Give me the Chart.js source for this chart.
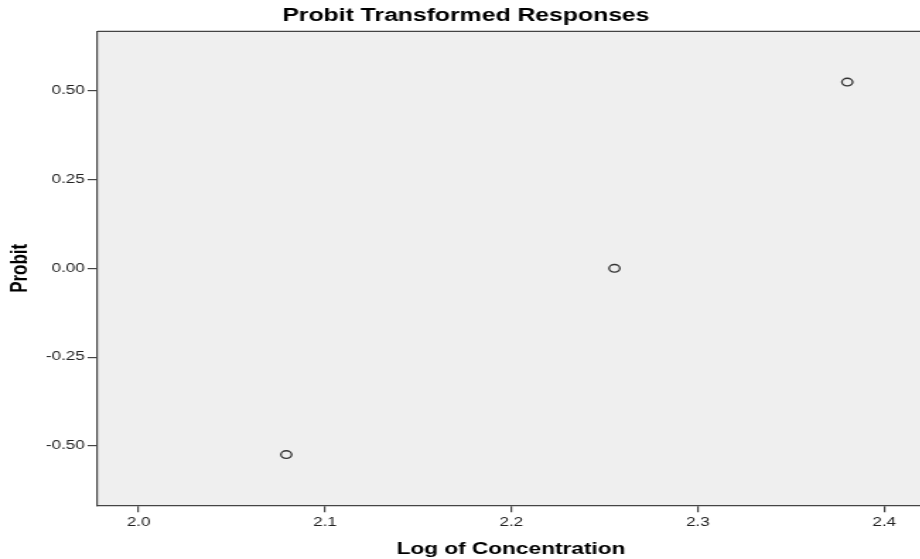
<!DOCTYPE html>
<html><head><meta charset="utf-8">
<script src="https://cdn.jsdelivr.net/npm/chart.js@4/dist/chart.umd.min.js"></script>
<style>
html,body{margin:0;padding:0;background:#fff;overflow:hidden;width:920px;height:559px}
#clip{width:920px;height:559px;overflow:hidden;position:relative}
#wrap{position:absolute;left:0;top:0;width:659px;height:559px;transform:scaleX(1.414);transform-origin:0 0}
canvas{display:block}
</style></head><body>
<div id="clip"><div id="wrap"><canvas id="c" width="659" height="559"></canvas></div></div>
<script>
// Data
const logConcentration = [2.0792, 2.2553, 2.3802];
const probit = [-0.524, 0.0, 0.524];
const xTickValues = [2.0, 2.1, 2.2, 2.3, 2.4];
const yTickValues = [-0.50, -0.25, 0.00, 0.25, 0.50];
const titleText = 'Probit Transformed Responses';
const xTitle = 'Log of Concentration';
const yTitle = 'Probit';

const AXIS = '#444444';
const plotBg = {
  id: 'plotBg',
  beforeDraw(chart) {
    const {ctx, chartArea: a} = chart;
    ctx.save();
    ctx.fillStyle = '#ffffff';
    ctx.fillRect(0, 0, chart.width, chart.height);
    ctx.fillStyle = '#efefef';
    ctx.fillRect(a.left, a.top, a.right - a.left, a.bottom - a.top);
    ctx.restore();
  },
  afterDraw(chart) {
    const {ctx, chartArea: a} = chart;
    ctx.save();
    ctx.strokeStyle = AXIS;
    ctx.lineWidth = 1.2;
    ctx.beginPath();
    ctx.moveTo(a.left, a.top);
    ctx.lineTo(a.right, a.top);
    ctx.stroke();
    ctx.restore();
  }
};

new Chart(document.getElementById('c'), {
  type: 'scatter',
  data: {
    datasets: [{
      data: logConcentration.map((x, i) => ({x: x, y: probit[i]})),
      pointRadius: 3.8,
      pointBorderWidth: 1.3,
      pointBorderColor: '#333333',
      pointBackgroundColor: 'rgba(0,0,0,0)',
      showLine: false
    }]
  },
  options: {
    responsive: false,
    devicePixelRatio: 1,
    animation: false,
    layout: {padding: 0},
    plugins: {
      legend: {display: false},
      tooltip: {enabled: false},
      title: {
        display: true,
        text: titleText,
        color: '#000',
        font: {family: 'Liberation Sans', size: 17.5, weight: 'bold'},
        padding: {top: 5.2, bottom: 5.1}
      }
    },
    scales: {
      x: {
        type: 'linear',
        min: 1.97793,
        max: 2.42155,
        afterFit(s) { s.height = 53.7; },
        afterBuildTicks(s) { s.ticks = xTickValues.map(v => ({value: v})); },
        grid: {display: true, drawOnChartArea: false, drawTicks: true, tickLength: 7, color: AXIS, lineWidth: 1.2},
        border: {display: true, color: AXIS, width: 1.2},
        ticks: {
          color: '#222',
          padding: 3,
          maxRotation: 0,
          font: {family: 'Liberation Sans', size: 12},
          callback: v => Number(v).toFixed(1)
        },
        title: {
          display: true,
          text: xTitle,
          color: '#000',
          font: {family: 'Liberation Sans', size: 16, weight: 'bold'},
          padding: {top: 0, bottom: 0}
        }
      },
      y: {
        type: 'linear',
        min: -0.6667,
        max: 0.6667,
        afterFit(s) { s.width = 68.95; },
        afterBuildTicks(s) { s.ticks = yTickValues.map(v => ({value: v})); },
        grid: {display: true, drawOnChartArea: false, drawTicks: true, tickLength: 7, color: AXIS, lineWidth: 1.2},
        border: {display: true, color: AXIS, width: 1.2},
        ticks: {
          color: '#222',
          padding: 2,
          font: {family: 'Liberation Sans', size: 12},
          callback: v => Number(v).toFixed(2)
        },
        title: {
          display: true,
          text: yTitle,
          color: '#000',
          font: {family: 'Liberation Sans', size: 17, weight: 'bold'},
          padding: {top: 4.5, bottom: 0}
        }
      }
    }
  },
  plugins: [plotBg]
});
</script>
</body></html>
